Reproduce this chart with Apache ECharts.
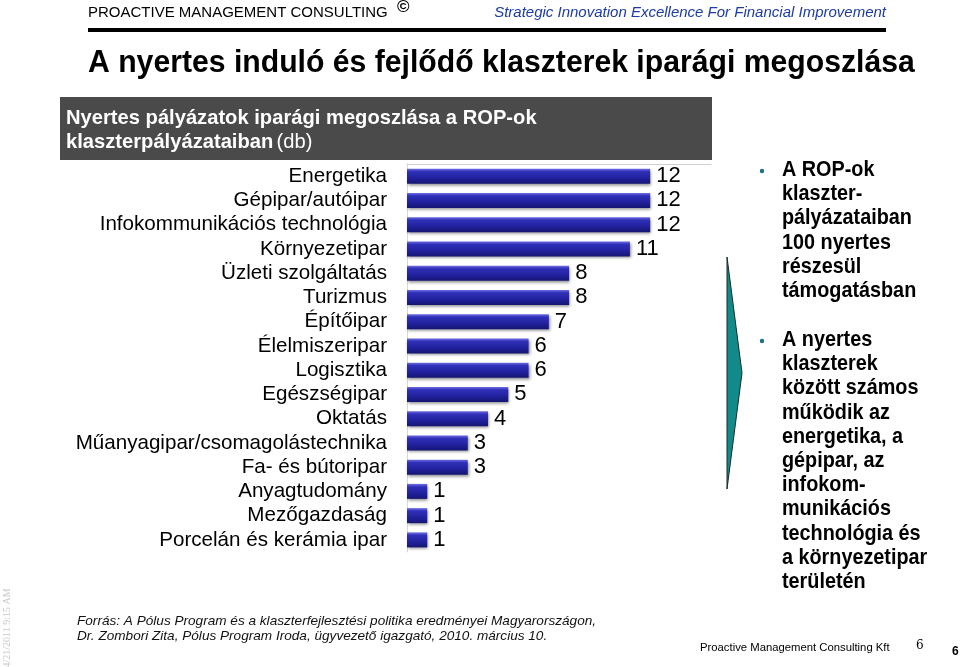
<!DOCTYPE html>
<html><head><meta charset="utf-8">
<script src="https://cdn.jsdelivr.net/npm/echarts@6/dist/echarts.min.js"></script>
<style>html,body{margin:0;padding:0;background:#fff}#c{width:960px;height:667px}</style>
</head><body><div id="c"></div>
<script>
const categories = ["Energetika","Gépipar/autóipar","Infokommunikációs technológia","Környezetipar","Üzleti szolgáltatás","Turizmus","Építőipar","Élelmiszeripar","Logisztika","Egészségipar","Oktatás","Műanyagipar/csomagolástechnika","Fa- és bútoripar","Anyagtudomány","Mezőgazdaság","Porcelán és kerámia ipar"];
const values = [12,12,12,11,8,8,7,6,6,5,4,3,3,1,1,1];
const bullet1 = ["A ROP-ok","klaszter-","pályázataiban","100 nyertes","részesül","támogatásban"];
const bullet2 = ["A nyertes","klaszterek","között számos","működik az","energetika, a","gépipar, az","infokom-","munikációs","technológia és","a környezetipar","területén"];

const F = 'Arial, "Liberation Sans", sans-serif';
const chart = echarts.init(document.getElementById('c'));
const graphics = [];
function txt(x,y,t,style,extra){ graphics.push(Object.assign({type:'text',x:x,y:y,style:Object.assign({text:t,font:'14px '+F,fill:'#000',textVerticalAlign:'middle'},style)},extra||{})); }

txt(88,13,'PROACTIVE MANAGEMENT CONSULTING',{font:'15px '+F});
txt(397,7,'©',{font:'bold 17px '+F});
txt(886,13,'Strategic Innovation Excellence For Financial Improvement',{font:'italic 15px '+F,fill:'#1c3ba6',textAlign:'right'});
graphics.push({type:'rect',shape:{x:88,y:28,width:798,height:4},style:{fill:'#000'}});
txt(88,63,'A nyertes induló és fejlődő klaszterek iparági megoszlása',{font:'bold 32px '+F},{scaleX:0.943});
graphics.push({type:'rect',shape:{x:60,y:97,width:652,height:63},style:{fill:'#4a4a4a'}});
txt(66,118,'Nyertes pályázatok iparági megoszlása a ROP-ok',{font:'bold 21px '+F,fill:'#fff'},{scaleX:0.96});
graphics.push({type:'text',x:66,y:142,scaleX:0.96,style:{rich:{b:{font:'bold 21px '+F,fill:'#fff'},n:{font:'21px '+F,fill:'#fff'}},text:'{b|klaszterpályázataiban} {n|(db)}',textVerticalAlign:'middle'}});
graphics.push({type:'polygon',shape:{points:[[727,257],[742,373],[727,489]]},style:{fill:'#138a8a',stroke:'#1a2a2a',lineWidth:1}});
bullet1.forEach((t,i)=>txt(782,170+i*24.2,t,{font:'bold 22px '+F},{scaleX:0.9}));
bullet2.forEach((t,i)=>txt(782,340+i*24.2,t,{font:'bold 22px '+F},{scaleX:0.9}));
graphics.push({type:'circle',shape:{cx:762,cy:171,r:2.2},style:{fill:'#1d6f8a'}});
graphics.push({type:'circle',shape:{cx:762,cy:341,r:2.2},style:{fill:'#1d6f8a'}});
txt(77,621,'Forrás: A Pólus Program és a klaszterfejlesztési politika eredményei Magyarországon,',{font:'italic 13.6px '+F,fill:'#111'});
txt(77,636,'Dr. Zombori Zita, Pólus Program Iroda, ügyvezető igazgató, 2010. március 10.',{font:'italic 13.6px '+F,fill:'#111'});
txt(700,648,'Proactive Management Consulting Kft',{font:'11.3px '+F});
txt(916,646,'6',{font:'12px "DejaVu Serif", serif'});
txt(952,652,'6',{font:'bold 12px '+F});
graphics.push({type:'text',x:7,y:628,rotation:Math.PI/2,style:{text:'4/21/2011 9:15 AM',font:'10px "Liberation Serif", serif',fill:'#c8c8c8',textAlign:'center',textVerticalAlign:'middle'}});

chart.setOption({
  animation:false,
  grid:{left:407,right:249,top:164,bottom:115},
  xAxis:{type:'value',min:0,max:15,position:'top',axisLine:{show:true,lineStyle:{color:'#cfcfcf',width:1}},axisTick:{show:false},axisLabel:{show:false},splitLine:{show:false}},
  yAxis:{type:'category',inverse:true,data:categories,axisLine:{show:true,lineStyle:{color:'#d8d8d8',width:1}},axisTick:{show:false},axisLabel:{interval:0,fontSize:20.6,fontFamily:F,color:'#000',margin:20}},
  series:[{type:'bar',data:values,barWidth:15,
    itemStyle:{color:{type:'linear',x:0,y:0,x2:0,y2:1,colorStops:[{offset:0,color:'#7070e6'},{offset:0.2,color:'#3030b8'},{offset:0.6,color:'#2222a0'},{offset:1,color:'#151574'}]},shadowColor:'rgba(0,0,0,0.45)',shadowBlur:3,shadowOffsetX:1,shadowOffsetY:2},
    label:{show:true,position:'right',distance:6,fontSize:22,fontFamily:F,color:'#000'}}],
  graphic:graphics
});
</script></body></html>
